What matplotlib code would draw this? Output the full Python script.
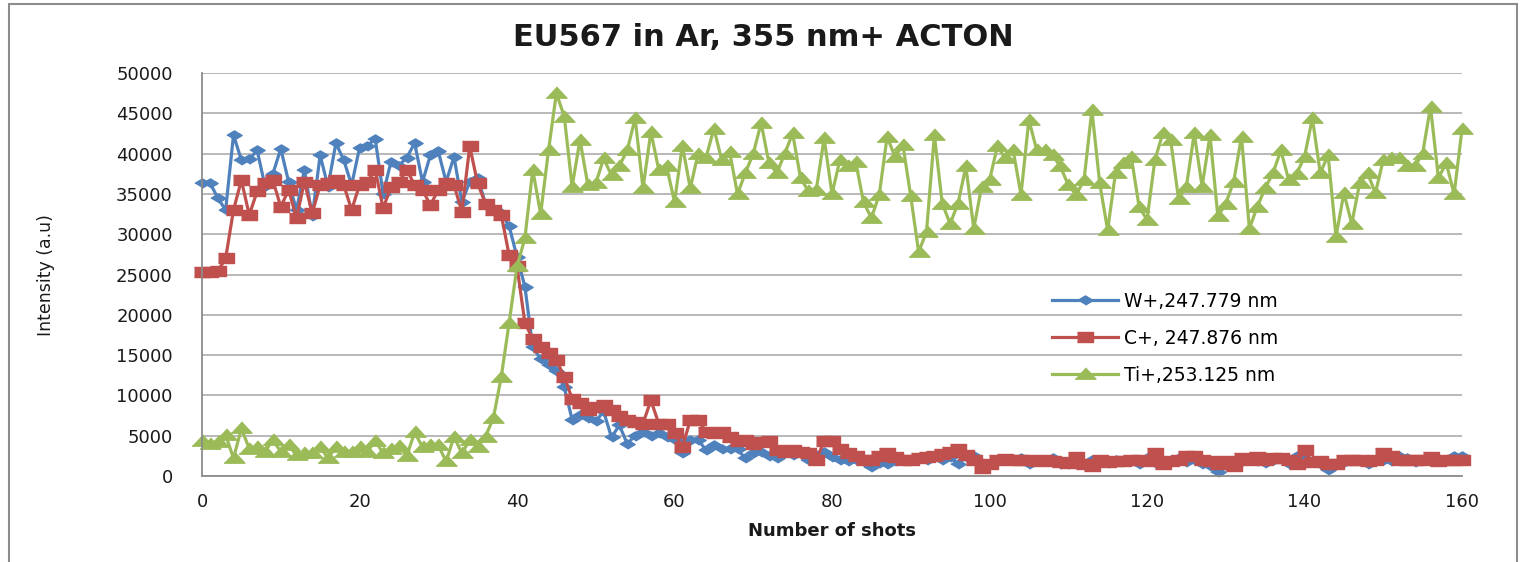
#!/usr/bin/env python3
# -*- coding: utf-8 -*-
import matplotlib
matplotlib.use('Agg')
import matplotlib.pyplot as plt
from matplotlib.patches import Rectangle

# shot number 0..160
shots = list(range(161))

# W+, 247.779 nm
w_plus = [
    36300, 36400, 34500, 33000, 42300, 39200, 39300, 40400, 36000, 37500,
    40600, 36500, 33000, 38000, 32200, 39800, 35900, 41300, 39200, 36100,
    40700, 41000, 41800, 35000, 39000, 38500, 39500, 41300, 36500, 39800,
    40300, 36500, 39600, 34000, 36500, 37000, 33800, 33000, 32600, 31000,
    27200, 23500, 16000, 14500, 13800, 13000, 11000, 7000, 7600, 7200,
    6800, 8000, 4800, 6300, 4000, 5000, 5500, 5000, 5300, 4800,
    4500, 2900, 4500, 4500, 3200, 3800, 3400, 3300, 3300, 2200,
    2800, 3000, 2500, 2200, 3000, 2600, 2800, 2000, 2600, 3000,
    2300, 2000, 1800, 2000, 1700, 1100, 1600, 1500, 1800, 2000,
    2000, 2200, 2000, 2500, 2000, 2300, 1500, 2300, 2500, 1500,
    1500, 1800, 2000, 2000, 2200, 1500, 1800, 2000, 2200, 1500,
    1500, 2000, 1500, 2000, 1800, 1600, 2000, 1800, 2000, 1500,
    2200, 1600, 1500, 2000, 2200, 1700, 2000, 1500, 1200, 500,
    1200, 1500, 1800, 2000, 1800, 1600, 2000, 2200, 1500, 2500,
    2000, 1800, 1500, 800, 1500, 1700, 2000, 2000, 1500, 2000,
    2000, 1800, 2500, 2200, 1700, 2000, 2000, 1800, 2000, 2500,
    2500,
]

# C+, 247.876 nm
c_plus = [
    25300, 25300, 25400, 27000, 33000, 36700, 32400, 35300, 36300, 36700,
    33400, 35500, 32000, 36500, 32600, 36100, 36300, 36700, 36100, 33000,
    36100, 36500, 38000, 33200, 35900, 36500, 38000, 36100, 35500, 33600,
    35500, 36300, 36100, 32800, 40900, 36300, 33800, 33000, 32400, 27400,
    26000, 19000, 17000, 16000, 15300, 14400, 12300, 9600, 9000, 8200,
    8600, 8800, 8200, 7400, 6900, 6700, 6500, 9400, 6500, 6500,
    5300, 3600, 6900, 6900, 5500, 5300, 5500, 4800, 4300, 4500,
    4000, 4200, 4300, 3200, 3000, 3200, 3000, 2800, 2000, 4300,
    4300, 3300, 2800, 2500, 2000, 2000, 2500, 2800, 2300, 2000,
    2000, 2200, 2300, 2500, 2700, 3000, 3300, 2600, 2000, 1000,
    1500, 2000, 2100, 2000, 2000, 2000, 1800, 2000, 1800, 1700,
    1600, 2300, 1500, 1300, 2000, 1700, 1800, 1800, 2000, 2000,
    1800, 2800, 1500, 1800, 2000, 2500, 2500, 2000, 1800, 1500,
    1800, 1200, 2200, 2000, 2300, 2000, 2200, 2200, 2000, 1500,
    3200, 1700, 1800, 1500, 1500, 2000, 2000, 2000, 1800, 2000,
    2800, 2500, 2000, 2000, 2000, 2000, 2300, 1800, 2000, 2000,
    2000,
]

# Ti+, 253.125 nm
ti_plus = [
    4300, 4000, 4200, 5100, 2200, 5900, 3400, 3600, 3000, 4500,
    3000, 3800, 2600, 2800, 2800, 3600, 2200, 3600, 3000, 3000,
    3600, 3000, 4400, 2800, 3300, 3700, 2500, 5400, 3600, 3800,
    3800, 1800, 4900, 2800, 4500, 3600, 4900, 7200, 12300, 19000,
    26000, 29500, 38000, 32500, 40400, 47500, 44600, 35900, 41700, 36100,
    36300, 39400, 37300, 38500, 40400, 44400, 35700, 42700, 38000, 38400,
    34000, 41000, 35700, 40000, 39500, 43100, 39200, 40200, 35000, 37600,
    40000, 43800, 38800, 37600, 40000, 42500, 37000, 35300, 35500, 41900,
    35000, 39200, 38500, 39000, 34000, 32000, 34900, 42100, 39600, 41100,
    34700, 27800, 30300, 42300, 33800, 31300, 33800, 38400, 30700, 35900,
    36700, 40900, 39400, 40400, 34900, 44200, 40400, 40500, 39800, 38400,
    36100, 34900, 36700, 45400, 36300, 30500, 37600, 38800, 39600, 33400,
    31800, 39200, 42500, 41700, 34400, 35900, 42500, 35900, 42300, 32200,
    33800, 36500, 42100, 30700, 33400, 35700, 37600, 40400, 36700, 37500,
    39600, 44400, 37600, 39800, 29700, 35100, 31300, 36300, 37600, 35100,
    39200, 39400, 39400, 38400, 38400, 40000, 45800, 37000, 38800, 35000,
    43000,
]

series_labels = ['W+,247.779 nm', 'C+, 247.876 nm', 'Ti+,253.125 nm']
series_colors = ['#4f81bd', '#c0504d', '#9bbb59']

# wide, flat marker shapes
diamond = [(-1, 0), (0, 0.6), (1, 0), (0, -0.6)]
square = [(-1, -0.68), (1, -0.68), (1, 0.68), (-1, 0.68)]
triangle = [(-1, -0.45), (1, -0.45), (0, 0.63)]

W, H = 1520, 562
fig = plt.figure(figsize=(W / 100, H / 100), dpi=100)
ax = fig.add_axes([202 / W, 1 - 476 / H, 1260 / W, 403 / H])

styles = [(diamond, 11), (square, 11.5), (triangle, 15)]
for y, label, color, (mk, ms) in zip([w_plus, c_plus, ti_plus], series_labels,
                                     series_colors, styles):
    ax.plot(shots, y, color=color, lw=2.3, marker=mk, markersize=ms,
            markeredgecolor=color, markerfacecolor=color, label=label,
            clip_on=False)

#axes
ax.set_xlim(0, 160)
ax.set_ylim(0, 50000)
ax.set_xticks(range(0, 161, 20))
ax.set_yticks(range(0, 50001, 5000))
ax.grid(axis='y', color='#a6a6a6', lw=1.1)
ax.set_axisbelow(True)
for side in ['top', 'right']:
    ax.spines[side].set_visible(False)
for side in ['left', 'bottom']:
    ax.spines[side].set_color('#8c8c8c')
    ax.spines[side].set_linewidth(1.3)
ax.tick_params(axis='y', length=0, pad=21, labelsize=13, labelcolor='#1a1a1a')
ax.tick_params(axis='x', length=0, pad=12, labelsize=13, labelcolor='#1a1a1a')

#legend
ax.legend(loc='upper left', bbox_to_anchor=(1052 / W, 1 - 292 / H),
          bbox_transform=fig.transFigure, frameon=False, fontsize=13.5,
          handlelength=3.5, handletextpad=0.35, labelspacing=0.95,
          borderpad=0, borderaxespad=0, numpoints=1)

#title and axis labels
fig.text(763 / W, 1 - 37 / H, 'EU567 in Ar, 355 nm+ ACTON', ha='center',
         va='center', fontsize=22, fontweight='bold', color='#1a1a1a')
fig.text(832 / W, 1 - 531 / H, 'Number of shots', ha='center', va='center',
         fontsize=13, fontweight='bold', color='#1a1a1a')
fig.text(46 / W, 1 - 275 / H, 'Intensity (a.u)', ha='center', va='center',
         rotation=90, fontsize=12.5,
         family=['Liberation Sans Narrow', 'DejaVu Sans'], color='#1a1a1a')

# chart border
fig.patches.append(Rectangle((9 / W, -0.05), 1508 / W, 1.05 - 4 / H,
                             transform=fig.transFigure, fill=False,
                             edgecolor='#8c8c8c', lw=1.5))

fig.savefig('out.png', dpi=100)
